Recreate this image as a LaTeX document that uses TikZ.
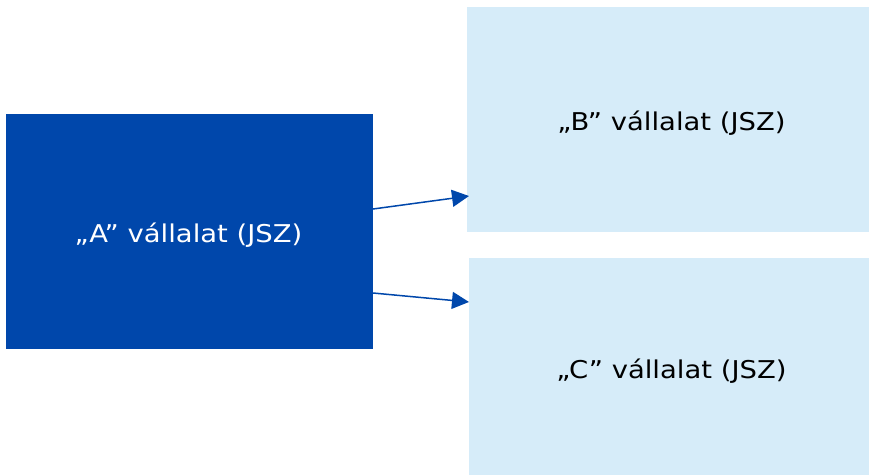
\documentclass[tikz,border=0pt]{standalone}
\usepackage{fontspec}
\setmainfont{DejaVu Sans}
\usetikzlibrary{arrows.meta}
\definecolor{darkb}{RGB}{0,71,171}
\definecolor{lightb}{RGB}{214,236,249}
\newcommand{\wide}[1]{\scalebox{1.12}[1]{#1}}
\begin{document}
\begin{tikzpicture}[x=1pt,y=-1pt,
  lbl/.style={inner sep=0pt,anchor=base,font=\fontsize{24.5}{28}\selectfont},
  conn/.style={draw=darkb,line width=1.5pt,-{Triangle[length=17pt,width=17pt]}}]
\useasboundingbox (0,0) rectangle (869,475);
\fill[darkb] (6,114) rectangle (373,349);
\node[lbl,text=white] (At) at (188.5,242) {\wide{„A” vállalat (JSZ)}};
\fill[lightb] (467,7) rectangle (869,232);
\node[lbl,text=black] (Bt) at (671.5,130) {\wide{„B” vállalat (JSZ)}};
\fill[lightb] (469,258) rectangle (869,475);
\node[lbl,text=black] (Ct) at (671.5,378.5) {\wide{„C” vállalat (JSZ)}};
\coordinate (a1) at (373,209);
\coordinate (b1) at (469,196);
\coordinate (a2) at (373,293);
\coordinate (c1) at (469,302);
\draw[conn] (a1) -- (b1);
\draw[conn] (a2) -- (c1);
\end{tikzpicture}
\end{document}
